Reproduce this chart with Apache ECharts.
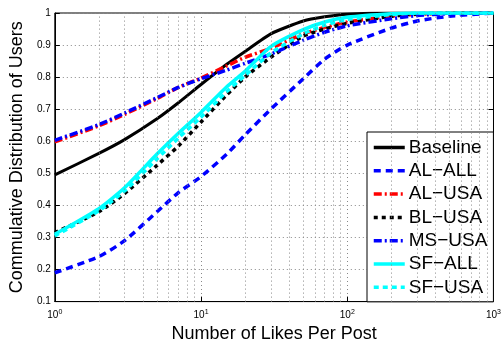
<!DOCTYPE html>
<html lang="en">
  <head>
    <meta charset="UTF-8" />
    <title>Likes per post CDF</title>
    <script src="https://cdn.jsdelivr.net/npm/echarts@6/dist/echarts.min.js"></script>
    <style>
      html, body { margin: 0; padding: 0; background: #fff; }
      #main { width: 504px; height: 348px; }
    </style>
  </head>
  <body>
    <div id="main"></div>

    <script>
      // likes per post (x) sample points
      const likes = [1, 2, 3, 5, 7, 10, 15, 20, 30, 50, 70, 100, 200, 300, 500, 1000];

      const baseline = [0.495, 0.562, 0.605, 0.67, 0.72, 0.777, 0.84, 0.88, 0.935, 0.975, 0.988, 0.996, 1, 1, 1, 1];
      const alAll    = [0.19, 0.24, 0.29, 0.38, 0.44, 0.49, 0.56, 0.62, 0.70, 0.795, 0.856, 0.90, 0.953, 0.975, 0.99, 1];
      const alUsa    = [0.598, 0.648, 0.684, 0.733, 0.768, 0.797, 0.835, 0.862, 0.89, 0.935, 0.955, 0.972, 0.99, 0.996, 1, 1];
      const blUsa    = [0.315, 0.38, 0.437, 0.525, 0.585, 0.66, 0.745, 0.80, 0.862, 0.928, 0.95, 0.968, 0.99, 0.997, 1, 1];
      const msUsa    = [0.603, 0.652, 0.688, 0.736, 0.768, 0.795, 0.822, 0.843, 0.872, 0.915, 0.94, 0.96, 0.982, 0.992, 0.998, 1];
      const sfAll    = [0.31, 0.39, 0.455, 0.56, 0.625, 0.69, 0.77, 0.818, 0.895, 0.948, 0.972, 0.987, 0.998, 1, 1, 1];
      const sfUsa    = [0.305, 0.383, 0.445, 0.545, 0.61, 0.675, 0.755, 0.805, 0.875, 0.935, 0.962, 0.98, 0.995, 1, 1, 1];

      const yTicks = [0.1, 0.2, 0.3, 0.4, 0.5, 0.6, 0.7, 0.8, 0.9, 1];
      // minor log grid positions
      const minorX = [2, 3, 4, 5, 6, 7, 8, 9, 20, 30, 40, 50, 60, 70, 80, 90, 200, 300, 400, 500, 600, 700, 800, 900];

      const font = 'Liberation Sans, Arial, Helvetica, sans-serif';

      function pairs(ys) {
        return likes.map((x, i) => [x, ys[i]]);
      }

      function line(name, ys, color, type, width) {
        return {
          name: name,
          type: 'line',
          data: pairs(ys),
          symbol: 'none',
          smooth: 0.2,
          lineStyle: { color: color, width: width, type: type },
          itemStyle: { color: color },
          z: 3,
        };
      }

      const gridDot = { type: [1, 3], color: '#888', width: 1 };

      const options = {
        animation: false,
        backgroundColor: '#fff',
        grid: {
          left: 47, right: 6, top: 13, bottom: 40,
          show: true, borderColor: '#000', borderWidth: 1,
        },
        xAxis: {
          type: 'log',
          logBase: 10,
          min: 1,
          max: 1000,
          name: 'Number of Likes Per Post',
          nameLocation: 'middle',
          nameGap: 19,
          nameTextStyle: { fontFamily: font, fontSize: 18, color: '#000' },
          axisLine: { lineStyle: { color: '#000' } },
          axisTick: { inside: true, length: 5, lineStyle: { color: '#000' } },
          splitLine: { show: true, lineStyle: gridDot },
          axisLabel: {
            margin: 7,
            color: '#000',
            formatter: (v) => '{b|10}{e|' + Math.round(Math.log10(v)) + '}',
            rich: {
              b: { fontFamily: font, fontSize: 10, color: '#000' },
              e: { fontFamily: font, fontSize: 7, color: '#000', padding: [0, 0, 6, 0] },
            },
          },
        },
        yAxis: [
          {
            type: 'value',
            min: 0.1,
            max: 1,
            interval: 0.1,
            name: 'Commulative Distribution of Users',
            nameLocation: 'middle',
            nameGap: 23,
            nameTextStyle: { fontFamily: font, fontSize: 18, color: '#000' },
            axisLine: { show: true, lineStyle: { color: '#000' } },
            axisTick: { inside: true, length: 5, lineStyle: { color: '#000' } },
            splitLine: { show: true, lineStyle: gridDot },
            axisLabel: {
              margin: 4,
              fontFamily: font,
              fontSize: 10,
              color: '#000',
              customValues: yTicks,
              formatter: (v) => (Math.abs(v - 1) < 1e-9 ? '1' : v.toFixed(1)),
            },
          },
          {
            type: 'value',
            position: 'right',
            min: 0.1,
            max: 1,
            interval: 0.1,
            axisLine: { show: true, lineStyle: { color: '#000' } },
            axisTick: { inside: true, length: 5, lineStyle: { color: '#000' } },
            axisLabel: { show: false },
            splitLine: { show: false },
          },
        ],
        legend: {
          orient: 'vertical',
          left: 367,
          top: 132,
          width: 127,
          padding: [6, 6, 5, 5],
          itemGap: 4.3,
          itemWidth: 31,
          itemHeight: 14,
          backgroundColor: '#fff',
          borderColor: '#000',
          borderWidth: 1,
          itemStyle: { opacity: 0 },
          lineStyle: { width: 3.5 },
          textStyle: { fontFamily: font, fontSize: 19, color: '#000', lineHeight: 19, padding: [0, 0, 0, -1] },
          data: ['Baseline', 'AL\u2212ALL', 'AL\u2212USA', 'BL\u2212USA', 'MS\u2212USA', 'SF\u2212ALL', 'SF\u2212USA'],
        },
        series: [
          {
            name: 'grid',
            type: 'line',
            data: [],
            z: 1,
            silent: true,
            markLine: {
              silent: true,
              symbol: 'none',
              label: { show: false },
              lineStyle: gridDot,
              data: minorX.map((v) => ({ xAxis: v })),
            },
          },
          line('Baseline', baseline, '#000000', 'solid', 3),
          line('AL\u2212ALL', alAll, '#0000ff', [7, 5], 3.5),
          line('AL\u2212USA', alUsa, '#ff0000', [8, 3, 2, 3], 3.5),
          line('BL\u2212USA', blUsa, '#000000', [4, 4], 3.5),
          line('MS\u2212USA', msUsa, '#0000ff', [8, 3, 2, 3], 3.5),
          line('SF\u2212ALL', sfAll, '#00ffff', 'solid', 3.5),
          line('SF\u2212USA', sfUsa, '#00ffff', [5, 4], 3.5),
        ],
      };

      var myChart = echarts.init(document.querySelector('#main'));
      myChart.setOption(options);
    </script>
  </body>
</html>
